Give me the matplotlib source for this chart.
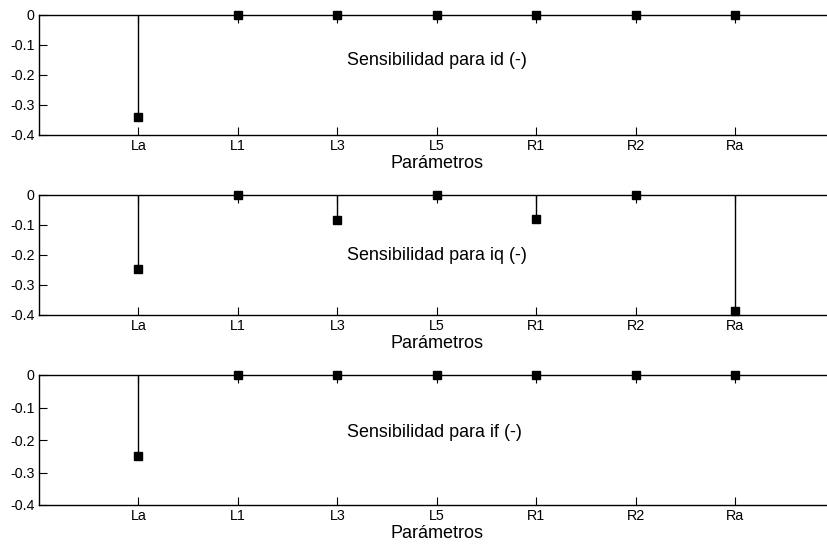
import matplotlib
matplotlib.use("Agg")
import matplotlib.pyplot as plt

# Data
params = ["La", "L1", "L3", "L5", "R1", "R2", "Ra"]
sens_id = [-0.34, 0, 0, 0, 0, 0, 0]
sens_iq = [-0.245, 0, -0.083, 0, -0.08, 0, -0.385]
sens_if = [-0.248, 0, 0, 0, 0, 0, 0]
titles = ["Sensibilidad para id (-)", "Sensibilidad para iq (-)", "Sensibilidad para if (-)"]
text_y = [-0.152, -0.2, -0.178]
yticks = [0, -0.1, -0.2, -0.3, -0.4]
ytick_labels = ["0", "-0.1", "-0.2", "-0.3", "-0.4"]

plt.rcParams["font.family"] = ["Liberation Sans", "DejaVu Sans"]
plt.rcParams["axes.unicode_minus"] = False

W, H = 828, 546
fig = plt.figure(figsize=(W / 100, H / 100), dpi=100)

# axes boxes in pixels: (top, bottom)
boxes = [(14.7, 135), (195, 315), (375, 505)]
left_px = 39
right_px = 834.6

x = list(range(1, len(params) + 1))
for (top, bot), vals, title, ty in zip(boxes, [sens_id, sens_iq, sens_if], titles, text_y):
    ax = fig.add_axes([left_px / W, 1 - bot / H, (right_px - left_px) / W, (bot - top) / H])
    ax.vlines(x, 0, vals, color="black", linewidth=1.0, clip_on=False)
    ax.plot(x, vals, "s", color="black", markersize=6, clip_on=False, zorder=3)
    ax.set_xlim(0, 8)
    ax.set_ylim(-0.4, 0)
    ax.set_xticks(x)
    ax.set_xticklabels(params)
    ax.set_yticks(yticks)
    ax.set_yticklabels(ytick_labels)
    ax.tick_params(direction="in", length=5.8, width=0.8, labelsize=10.3,
                   top=True, right=True, pad=3)
    for s in ax.spines.values():
        s.set_linewidth(1.0)
    ax.text(3.1, ty, title, fontsize=12.9, ha="left", va="center")
    ax.set_xlabel("Parámetros", fontsize=13, labelpad=1)

fig.savefig("out.png", dpi=100)
